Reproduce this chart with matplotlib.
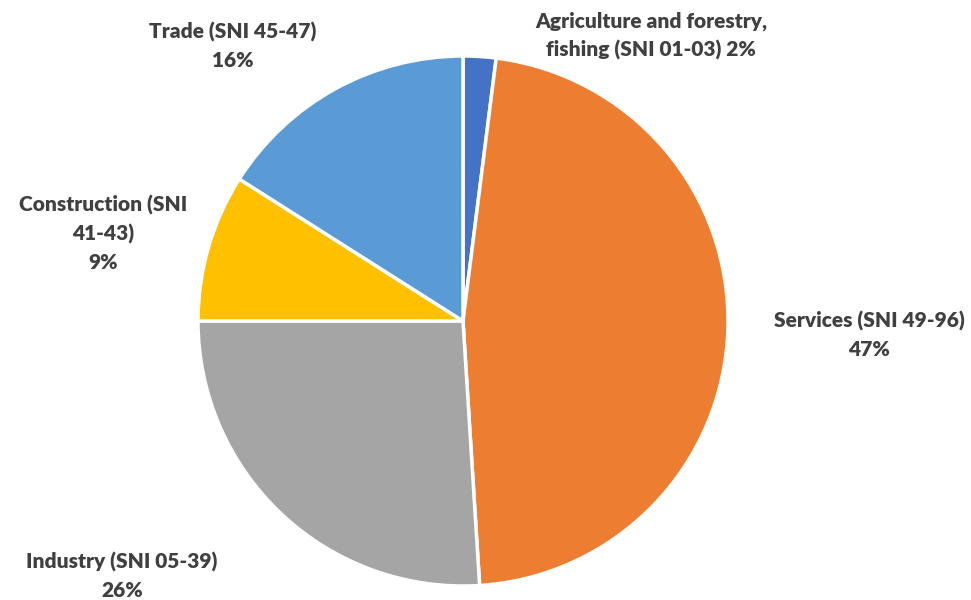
import matplotlib.pyplot as plt

labels = ["Agriculture and forestry,\nfishing (SNI 01-03) 2%",
          "Services (SNI 49-96)\n47%",
          "Industry (SNI 05-39)\n26%",
          "Construction (SNI\n41-43)\n9%",
          "Trade (SNI 45-47)\n16%"]
shares = [2, 47, 26, 9, 16]
colors = ["#4472C4", "#ED7D31", "#A5A5A5", "#FFC000", "#5B9BD5"]

# label centres in pixel coords (x, y from top)
label_pos = [(651, 36), (869, 335), (122, 576), (103, 233), (233, 46)]

W, H = 971, 600
fig = plt.figure(figsize=(W / 100, H / 100), dpi=100)
ax = fig.add_axes([0, 0, 1, 1])

ax.pie(shares, colors=colors, startangle=90, counterclock=False,
       center=(463, H - 321), radius=265,
       wedgeprops=dict(edgecolor="white", linewidth=2.5), frame=True)
ax.set_xlim(0, W)
ax.set_ylim(0, H)
ax.set_aspect("equal")
ax.axis("off")

for txt, (x, y) in zip(labels, label_pos):
    ax.text(x, H - y, txt, ha="center", va="center", multialignment="center",
            fontsize=15, fontweight="heavy", color="#404040",
            family="Lato", linespacing=1.55)

fig.savefig("out.png", dpi=100)
